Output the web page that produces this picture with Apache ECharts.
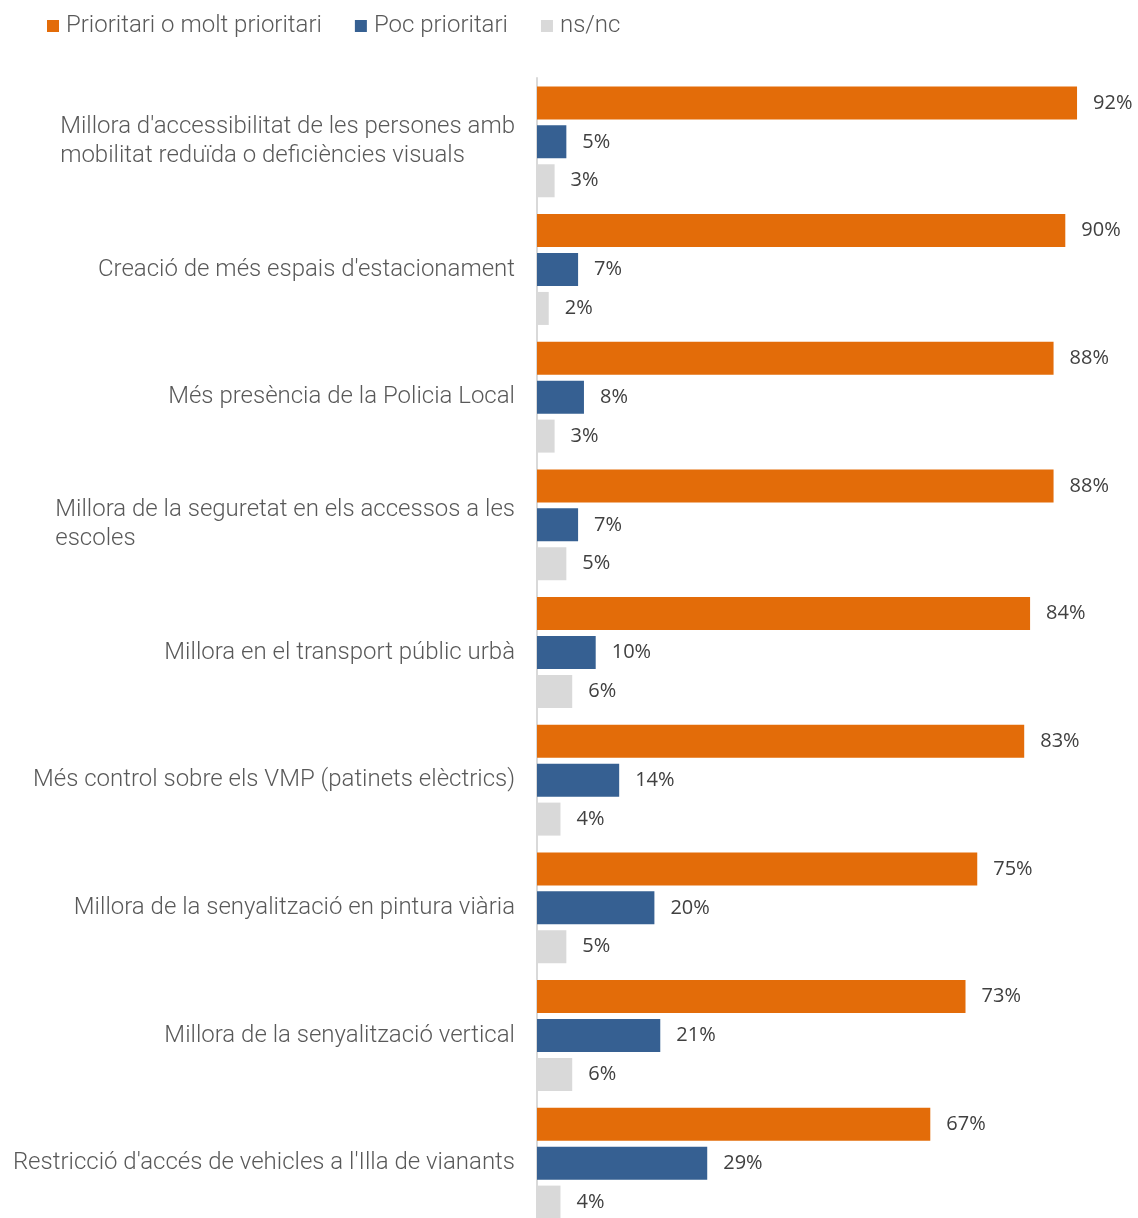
<!DOCTYPE html>
<html><head><meta charset="utf-8">
<script src="https://cdn.jsdelivr.net/npm/echarts@6/dist/echarts.min.js"></script>
<style>html,body{margin:0;padding:0;background:#fff}#c{width:1138px;height:1218px}</style>
</head><body><div id="c"></div>
<script>
const categories = [
  "Millora d'accessibilitat de les persones amb\nmobilitat reduïda o deficiències visuals",
  "Creació de més espais d'estacionament",
  "Més presència de la Policia Local",
  "Millora de la seguretat en els accessos a les\nescoles",
  "Millora en el transport públic urbà",
  "Més control sobre els VMP (patinets elèctrics)",
  "Millora de la senyalització en pintura viària",
  "Millora de la senyalització vertical",
  "Restricció d'accés de vehicles a l'Illa de vianants"
];
const seriesNames = ["Prioritari o molt prioritari", "Poc prioritari", "ns/nc"];
const prioritari = [92, 90, 88, 88, 84, 83, 75, 73, 67];
const pocPrioritari = [5, 7, 8, 7, 10, 14, 20, 21, 29];
const nsnc = [3, 2, 3, 5, 6, 4, 5, 6, 4];
const colors = ["#E36C09", "#366092", "#D9D9D9"];

const chart = echarts.init(document.getElementById('c'), null, {renderer: 'canvas'});
const labelCfg = {
  show: true, position: 'right', distance: 16,
  formatter: p => p.value + '%',
  fontFamily: 'Open Sans', fontSize: 20, color: '#404040', padding: [2, 0, 0, 0]
};
function mk(name, data, color) {
  return {
    name, type: 'bar', data, barWidth: 33, barGap: '18%',
    itemStyle: {color}, label: labelCfg, emphasis: {disabled: true}, animation: false
  };
}
chart.setOption({
  animation: false,
  legend: {
    left: 42, top: 9, itemWidth: 12, itemHeight: 12, itemGap: 33,
    icon: 'rect',
    textStyle: {fontFamily: 'Roboto', fontWeight: 300, fontSize: 24, color: '#595959', padding: [0, 0, 0, 2]},
    data: seriesNames
  },
  grid: {left: 537, right: 14, top: 78, height: 1149, containLabel: false, outerBoundsMode: 'none'},
  xAxis: {type: 'value', min: 0, max: 100, show: false},
  yAxis: {
    type: 'category', data: categories, inverse: true,
    axisLine: {show: true, lineStyle: {color: '#D9D9D9', width: 2}},
    axisTick: {show: false},
    axisLabel: {
      margin: 22, fontFamily: 'Roboto', fontWeight: 300, fontSize: 24, color: '#595959',
      lineHeight: 29, align: 'right',
      formatter: v => v.split('\n').map(s => '{l|' + s + '}').join('\n'),
      rich: {l: {align: 'left', fontFamily: 'Roboto', fontWeight: 300, fontSize: 24, color: '#595959', lineHeight: 29}}
    }
  },
  series: [
    mk(seriesNames[0], prioritari, colors[0]),
    mk(seriesNames[1], pocPrioritari, colors[1]),
    mk(seriesNames[2], nsnc, colors[2])
  ]
});
</script></body></html>
